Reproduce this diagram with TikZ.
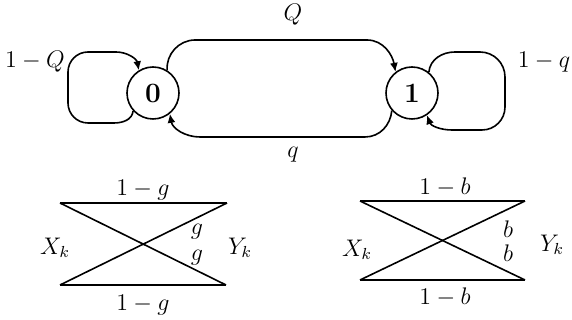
\documentclass[tikz,border=0pt]{standalone}
\usetikzlibrary{arrows.meta}
\begin{document}
\begin{tikzpicture}[x=0.5pt,y=0.5pt,
  state/.style={circle,draw,line width=0.8pt,minimum size=26pt,inner sep=0pt,font=\fontsize{14}{16}\selectfont\bfseries},
  edge/.style={line width=0.8pt,-{Latex[length=4.5pt,width=4pt]}},
  lbl/.style={font=\fontsize{12}{14}\selectfont,inner sep=0pt},
  wire/.style={line width=0.8pt}]
\useasboundingbox (0,0) rectangle (572,320);
% states
\node[state] (n0) at (153,227) {0};
\node[state] (n1) at (412,227) {1};
% self loop on 0
\draw[edge] (n0.222) to[out=265,in=0] (114,197) -- (88,197)
  to[out=180,in=270] (68,217) -- (68,248)
  to[out=90,in=180] (88,268) -- (116,268)
  to[out=0,in=100] (n0.122);
% self loop on 1
\draw[edge] (n1.51) to[out=85,in=180] (455,268) -- (480,268)
  to[out=0,in=90] (505,243) -- (505,213)
  to[out=270,in=0] (482,190) -- (452,190)
  to[out=180,in=290] (n1.304);
% Q edge
\draw[edge] (n0.58) to[out=95,in=180] (195,280) -- (367,280)
  to[out=0,in=100] (n1.128);
% q edge
\draw[edge] (n1.221) to[out=265,in=0] (365,183) -- (200,183)
  to[out=180,in=280] (n0.309);
% labels
\node[lbl] (lQ) at (293,305) {$Q$};
\node[lbl] (lq) at (293,165) {$q$};
\node[lbl] (l1Q) at (35,258) {$1-Q$};
\node[lbl] (l1q) at (544,258) {$1-q$};
% left channel
\coordinate (gx1) at (60,117);
\coordinate (gx0) at (60,35);
\coordinate (gy1) at (227,117);
\coordinate (gy0) at (226,35);
\draw[wire] (gx1) -- (gy1);
\draw[wire] (gx0) -- (gy0);
\draw[wire] (gx1) -- (gy0);
\draw[wire] (gx0) -- (gy1);
\node[lbl] (g1) at (143,130) {$1-g$};
\node[lbl] (g2) at (143,15) {$1-g$};
\node[lbl] (gX) at (55,72) {$X_k$};
\node[lbl] (gY) at (240,72) {$Y_k$};
\node[lbl] (g3) at (197,88) {$g$};
\node[lbl] (g4) at (197,62) {$g$};
% right channel
\coordinate (bx1) at (360,119);
\coordinate (bx0) at (360,40);
\coordinate (by1) at (525,119);
\coordinate (by0) at (525,40);
\draw[wire] (bx1) -- (by1);
\draw[wire] (bx0) -- (by0);
\draw[wire] (bx1) -- (by0);
\draw[wire] (bx0) -- (by1);
\node[lbl] (b1) at (445,133) {$1-b$};
\node[lbl] (b2) at (445,23) {$1-b$};
\node[lbl] (bX) at (357,70) {$X_k$};
\node[lbl] (bY) at (552,75) {$Y_k$};
\node[lbl] (b3) at (508,91) {$b$};
\node[lbl] (b4) at (508,67) {$b$};
\end{tikzpicture}
\end{document}
